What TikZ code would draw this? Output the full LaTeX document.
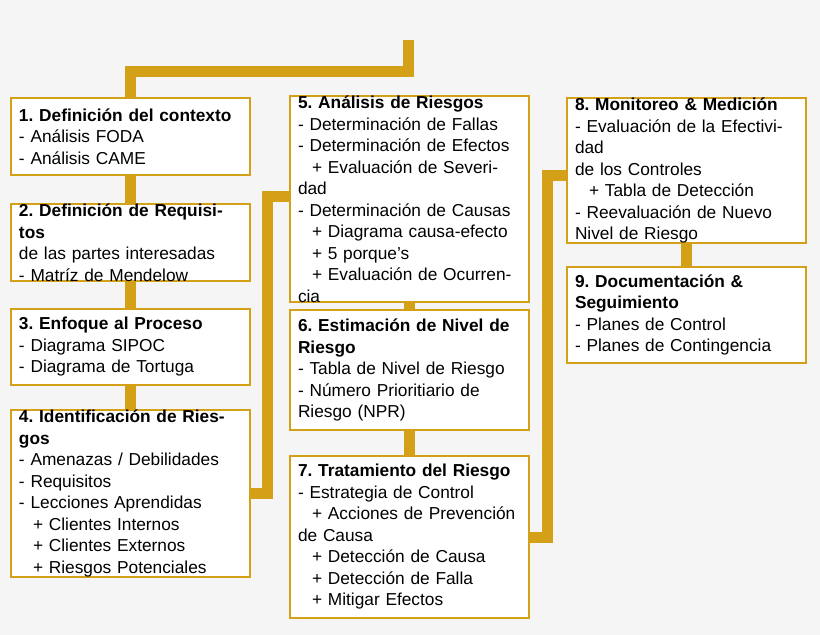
\documentclass[tikz,border=0pt]{standalone}
\usepackage{fontspec}
\setmainfont{Liberation Sans}
\usetikzlibrary{backgrounds}
\definecolor{gold}{HTML}{D4A017}
\definecolor{bg}{HTML}{F5F5F5}
\tikzset{
 box/.style={draw=gold,line width=2pt,fill=white,anchor=north west,inner xsep=8pt,inner ysep=0pt,outer sep=0pt,
   align=left,text width=223pt,font=\fontsize{17.3}{21.5}\selectfont\frenchspacing},
 conn/.style={draw=gold,line width=11pt}
}
\newcommand{\ind}{\hspace*{14pt}}
\begin{document}
\begin{tikzpicture}[x=1pt,y=-1pt]
\useasboundingbox (0,0) rectangle (820,635);
\node[box,minimum height=77pt] (b1) at (11,98) {\textbf{1. Definición del contexto}\\- Análisis FODA\\- Análisis CAME};
\node[box,minimum height=76pt] (b2) at (11,204) {\textbf{2. Definición de Requisitos}\\de las partes interesadas\\- Matríz de Mendelow};
\node[box,minimum height=76pt] (b3) at (11,309) {\textbf{3. Enfoque al Proceso}\\- Diagrama SIPOC\\- Diagrama de Tortuga};
\node[box,minimum height=165pt] (b4) at (11,410) {\textbf{4. Identificación de Riesgos}\\- Amenazas / Debilidades\\- Requisitos\\- Lecciones Aprendidas\\\ind+ Clientes Internos\\\ind+ Clientes Externos\\\ind+ Riesgos Potenciales};
\node[box,minimum height=187pt] (b5) at (290,96) {\textbf{5. Análisis de Riesgos}\\- Determinación de Fallas\\- Determinación de Efectos\\\ind+ Evaluación de Severidad\\- Determinación de Causas\\\ind+ Diagrama causa-efecto\\\ind+ 5 porque’s\\\ind+ Evaluación de Ocurrencia};
\node[box,minimum height=120pt] (b6) at (290,310) {\textbf{6. Estimación de Nivel de}\\\textbf{Riesgo}\\- Tabla de Nivel de Riesgo\\- Número Prioritiario de\\Riesgo (NPR)};
\node[box,minimum height=162pt] (b7) at (290,456) {\textbf{7. Tratamiento del Riesgo}\\- Estrategia de Control\\\ind+ Acciones de Prevención\\de Causa\\\ind+ Detección de Causa\\\ind+ Detección de Falla\\\ind+ Mitigar Efectos};
\node[box,minimum height=142pt] (b8) at (567,98) {\textbf{8. Monitoreo \& Medición}\\- Evaluación de la Efectividad\\de los Controles\\\ind+ Tabla de Detección\\- Reevaluación de Nuevo\\Nivel de Riesgo};
\node[box,minimum height=96pt] (b9) at (567,267) {\textbf{9. Documentación \&}\\\textbf{Seguimiento}\\- Planes de Control\\- Planes de Contingencia};
\coordinate (top) at (408.5,40);
\coordinate (y45) at (0,196);
\coordinate (y78) at (0,175);
\begin{pgfonlayer}{background}
\fill[bg] (0,0) rectangle (820,635);
\draw[conn] (top) -- (408.5,71.5) -| (b1.north);
\draw[conn] (b1.south) -- (b2.north);
\draw[conn] (b2.south) -- (b3.north);
\draw[conn] (b3.south) -- (b4.north);
\draw[conn] (b4.east) -- ++(17.5,0) |- (b5.west |- y45);
\draw[conn] (b5.south) -- (b6.north);
\draw[conn] (b6.south) -- (b7.north);
\draw[conn] (b7.east) -- ++(18,0) |- (b8.west |- y78);
\draw[conn] (b8.south) -- (b9.north);
\end{pgfonlayer}
\end{tikzpicture}
\end{document}
